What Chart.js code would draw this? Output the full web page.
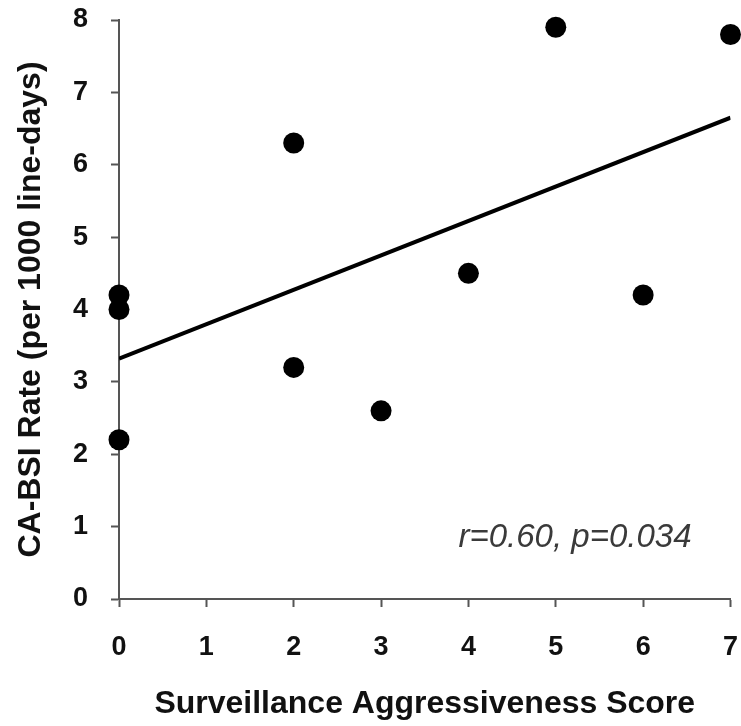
<!DOCTYPE html>
<html>
<head>
<meta charset="utf-8">
<script src="https://cdn.jsdelivr.net/npm/chart.js@4/dist/chart.umd.min.js"></script>
<style>
  html, body { margin: 0; padding: 0; background: #fff; }
  #wrap { width: 741px; height: 726px; }
</style>
</head>
<body>
<div id="wrap"><canvas id="scatter" width="741" height="726"></canvas></div>
<script>
// scores and rates
const scores = [0, 0, 0, 2, 2, 3, 4, 5, 6, 7];
const rates = [4.2, 4.0, 2.2, 6.3, 3.2, 2.6, 4.5, 7.9, 4.2, 7.8];
// fitted line ends
const fitX = [0, 7];
const fitY = [3.32, 6.65];
const xTicks = [0, 1, 2, 3, 4, 5, 6, 7];
const yTicks = [0, 1, 2, 3, 4, 5, 6, 7, 8];
const statText = 'r=0.60, p=0.034';

const axisColor = '#555';
const font = 'Liberation Sans, Arial, sans-serif';

const annotate = {
  id: 'annotate',
  afterDraw(chart) {
    const ctx = chart.ctx;
    const x = chart.scales.x, y = chart.scales.y;
    ctx.save();
    ctx.font = 'italic 33px ' + font;
    ctx.fillStyle = '#3a3a3a';
    ctx.textAlign = 'center';
    ctx.textBaseline = 'middle';
    ctx.fillText(statText, x.getPixelForValue(5.22), y.getPixelForValue(0.84));
    ctx.restore();
  }
};

new Chart(document.querySelector('#scatter').getContext('2d'), {
  type: 'scatter',
  data: {
    datasets: [{
      data: scores.map((s, i) => ({x: s, y: rates[i]})),
      backgroundColor: '#000',
      borderWidth: 0,
      pointRadius: 10.5,
      clip: false
    }, {
      type: 'line',
      data: fitX.map((v, i) => ({x: v, y: fitY[i]})),
      borderColor: '#000',
      borderWidth: 4,
      pointRadius: 0,
      fill: false
    }]
  },
  options: {
    responsive: false,
    animation: false,
    layout: { padding: { top: 20, right: 9, left: 0, bottom: 0 } },
    plugins: { legend: { display: false }, tooltip: { enabled: false } },
    scales: {
      x: {
        type: 'linear',
        min: 0, max: 7,
        afterBuildTicks: s => { s.ticks = xTicks.map(v => ({value: v})); },
        afterFit: s => { s.height = 127; s.paddingLeft = 0; s.paddingRight = 0; },
        border: { display: true, color: axisColor, width: 2 },
        grid: { drawOnChartArea: false, drawTicks: true, tickLength: 8, color: axisColor, tickWidth: 2 },
        ticks: { color: '#111', font: { family: font, size: 27, weight: 'bold' }, padding: 24, maxRotation: 0 },
        title: { display: true, text: 'Surveillance Aggressiveness Score', color: '#111',
                 font: { family: font, size: 32, weight: 'bold' }, padding: { top: 0, bottom: 3 } }
      },
      y: {
        min: 0, max: 8,
        afterBuildTicks: s => { s.ticks = yTicks.map(v => ({value: v})); },
        afterFit: s => { s.width = 119; s.paddingTop = 0; s.paddingBottom = 0; },
        border: { display: true, color: axisColor, width: 2 },
        grid: { drawOnChartArea: false, drawTicks: true, tickLength: 8, color: axisColor, tickWidth: 2 },
        ticks: { color: '#111', font: { family: font, size: 27, weight: 'bold' }, padding: 23 },
        title: { display: true, text: 'CA-BSI Rate (per 1000 line-days)', color: '#111',
                 font: { family: font, size: 32, weight: 'bold' }, padding: { top: 12, bottom: 0 } }
      }
    }
  },
  plugins: [annotate]
});
</script>
</body>
</html>
